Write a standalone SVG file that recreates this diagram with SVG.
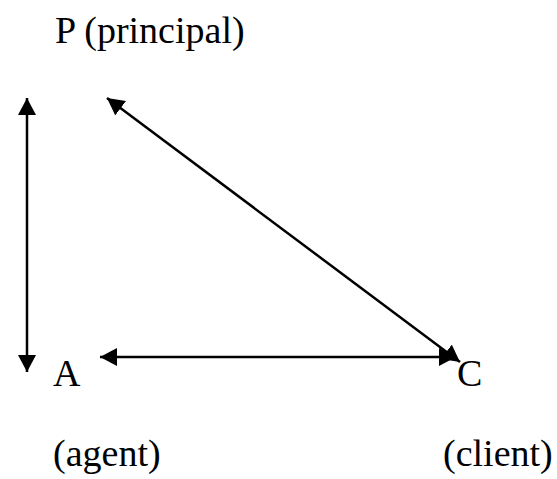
<svg xmlns="http://www.w3.org/2000/svg" width="557" height="479" viewBox="0 0 557 479">
<defs>
<marker id="ah" viewBox="0 0 17 18" refX="17" refY="9" markerWidth="17" markerHeight="18" orient="auto-start-reverse" markerUnits="userSpaceOnUse">
<path d="M0,0 L17,9 L0,18 Z" fill="#000"/>
</marker>
<style>
text{font-family:"Liberation Serif","Times New Roman",serif;font-size:38px;fill:#000}
.c{stroke:#000;stroke-width:2.5;fill:none;marker-start:url(#ah);marker-end:url(#ah)}
</style>
</defs>
<rect width="557" height="479" fill="#fff"/>
<g id="connectors">
<line class="c" x1="27" y1="98" x2="27" y2="372"/>
<line class="c" x1="100" y1="357" x2="456" y2="357"/>
<line class="c" x1="107" y1="98" x2="460" y2="362"/>
</g>
<g id="P"><text x="55" y="43">P (principal)</text></g>
<g id="A"><text x="53" y="386">A</text><text x="53" y="466">(agent)</text></g>
<g id="C"><text x="457" y="386">C</text><text x="443" y="466">(client)</text></g>
</svg>
